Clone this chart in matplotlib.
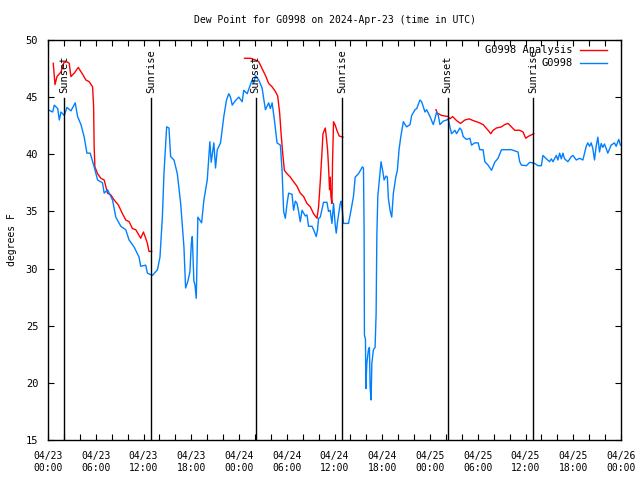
import numpy as np
import matplotlib
matplotlib.use("Agg")
import matplotlib.pyplot as plt
from matplotlib.ticker import MultipleLocator

# hours since 2024-04-23 00:00 UTC, dew point in degrees F
obs_hours = [0.0, 0.59, 0.79, 1.22, 1.42, 1.63, 2.04, 2.38, 2.88, 3.42, 3.72, 4.14, 4.55, 4.89,
             5.30, 5.80, 6.23, 6.85, 7.06, 7.48, 8.11, 8.52, 9.15, 9.77, 10.19, 10.81, 11.44,
             11.65, 12.28, 12.49, 13.12, 13.75, 14.07, 14.37, 14.57, 14.91, 15.20, 15.41,
             15.83, 16.25, 16.67, 17.08, 17.29, 17.58, 17.83, 18.01, 18.13, 18.33, 18.46,
             18.63, 18.76, 18.83, 19.30, 19.59, 20.01, 20.34, 20.51, 20.84, 21.05, 21.27,
             21.68, 22.09, 22.43, 22.72, 22.93, 23.15, 23.56, 23.97, 24.40, 24.60, 25.02,
             25.44, 25.65, 25.85, 26.07, 26.48, 26.90, 27.32, 27.73, 27.94, 28.16, 28.45,
             28.78, 29.20, 29.41, 29.61, 29.82, 30.04, 30.24, 30.66, 30.86, 31.08, 31.29,
             31.49, 31.70, 31.92, 32.33, 32.54, 32.74, 33.17, 33.37, 33.71, 33.87, 34.00,
             34.21, 34.62, 35.05, 35.25, 35.46, 35.68, 35.88, 36.09, 36.22, 36.38, 36.72,
             36.84, 37.00, 37.13, 37.76, 37.97, 38.38, 38.60, 39.01, 39.51, 39.64, 39.72,
             39.76, 39.89, 39.94, 40.06, 40.26, 40.39, 40.48, 40.60, 40.69, 40.89, 41.10,
             41.23, 41.32, 41.44, 41.64, 41.85, 42.07, 42.23, 42.48, 42.64, 42.77, 42.98,
             43.19, 43.40, 43.70, 43.90, 44.11, 44.32, 44.65, 44.86, 45.08, 45.49, 45.70,
             46.12, 46.33, 46.74, 46.95, 47.37, 47.58, 48.00, 48.41, 48.62, 48.83, 49.04,
             49.25, 49.66, 50.09, 50.29, 50.50, 50.71, 51.13, 51.34, 51.75, 51.97, 52.17,
             52.59, 53.01, 53.22, 53.63, 54.05, 54.26, 54.67, 54.89, 55.30, 55.73, 56.14,
             56.55, 56.98, 57.39, 58.23, 58.65, 59.06, 59.27, 59.49, 60.11, 60.53, 61.15,
             61.57, 61.99, 62.19, 62.62, 63.03, 63.24, 63.45, 63.87, 64.07, 64.29, 64.50,
             64.70, 64.91, 65.33, 65.75, 65.96, 66.38, 66.79, 67.21, 67.42, 67.63, 67.83,
             68.05, 68.26, 68.46, 68.67, 68.88, 69.09, 69.30, 69.51, 69.71, 69.92, 70.14,
             70.34, 70.76, 71.18, 71.39, 71.72, 71.93]
obs_dewpt = [43.9, 43.7, 44.3, 44.0, 43.0, 43.7, 43.4, 44.1, 43.8, 44.5, 43.3, 42.6, 41.5, 40.1,
             40.1, 38.9, 37.75, 37.5, 36.6, 36.9, 36.0, 34.5, 33.7, 33.4, 32.5, 31.9, 31.0,
             30.2, 30.3, 29.6, 29.4, 29.9, 31.0, 34.5, 38.3, 42.4, 42.3, 39.8,
             39.5, 38.3, 35.7, 31.9, 28.3, 28.9, 29.7, 32.2, 32.8, 28.9, 28.6,
             27.4, 32.2, 34.5, 34.0, 36.0, 37.75, 41.1, 39.3, 41.0, 38.8, 40.4,
             41.0, 43.3, 44.75, 45.3, 45.0, 44.3, 44.7, 45.0, 44.6, 45.6, 45.3,
             46.1, 46.5, 46.2, 46.9, 46.5, 45.8, 43.9, 44.5, 44.0, 44.5, 43.0,
             41.0, 40.8, 38.6, 35.0, 34.4, 35.7, 36.6, 36.5, 35.1, 35.9, 35.7,
             35.0, 34.1, 35.1, 34.6, 34.7, 33.7, 33.7, 33.4, 32.8, 33.4, 34.4,
             34.5, 35.8, 35.8, 35.0, 35.1, 33.95, 35.7, 33.8, 33.1, 34.1, 35.7,
             35.9, 35.0, 33.95, 33.95, 34.7, 36.3, 38.0, 38.3, 38.9, 38.8, 33.4,
             24.2, 23.8, 19.5, 21.7, 22.9, 23.1, 19.5, 18.5, 21.7, 22.9, 23.1,
             26.1, 32.8, 36.3, 37.75, 39.35, 38.5, 37.75, 38.1, 38.0, 36.15, 35.1,
             34.5, 36.6, 38.0, 38.6, 40.4, 41.5, 42.85, 42.6, 42.4, 42.6, 43.4,
             43.9, 44.0, 44.75, 44.6, 43.7, 43.9, 43.3, 42.6, 43.1, 43.7, 43.4,
             42.6, 42.9, 43.0, 43.1, 42.4, 41.8, 42.1, 41.8, 42.3, 42.1, 41.55,
             41.3, 41.4, 40.8, 41.0, 41.0, 40.4, 40.4, 39.35, 39.05, 38.6, 39.3,
             39.65, 40.4, 40.4, 40.4, 40.3, 40.2, 39.35, 39.05, 39.0, 39.3, 39.2,
             39.0, 39.0, 39.9, 39.6, 39.35, 39.6, 39.35, 39.9, 39.5, 40.1, 39.6,
             40.1, 39.6, 39.35, 39.8, 39.9, 39.5, 39.65, 39.5, 40.1, 40.7, 41.0,
             40.7, 41.0, 40.5, 39.5, 40.7, 41.5, 40.2, 40.95, 40.6, 40.9, 40.5,
             40.1, 40.8, 41.0, 40.7, 41.3, 40.8]

# analysis series, nan marks the gaps between the three nights
ana_hours = [0.66, 0.88, 1.13, 1.63, 1.97, 2.38, 2.67, 2.88, 3.30, 3.80, 4.35, 4.76, 5.18, 5.60,
             5.73, 5.80, 5.89, 6.23, 6.64, 7.06, 7.48, 7.89, 8.31, 8.81, 9.36, 9.77, 10.19,
             10.61, 11.03, 11.65, 11.99, 12.28, 12.49, 12.69, 13.03,
             np.nan,
             24.69, 25.44, 26.07, 26.48, 26.90, 27.32, 27.73, 28.16, 28.57, 28.86, 29.11,
             29.29, 29.49, 29.70, 30.04, 30.45, 30.86, 31.29, 31.70, 32.12, 32.54, 32.96,
             33.37, 33.80, 34.00, 34.21, 34.42, 34.55, 34.84, 34.96, 35.13, 35.25, 35.38,
             35.46, 35.55, 35.68, 35.75, 35.88, 36.09, 36.30, 36.59, 37.05,
             np.nan,
             48.75, 48.91, 49.46, 49.87, 50.29, 50.50, 50.84, 51.34, 51.84, 52.38, 52.92,
             53.42, 54.05, 54.67, 55.30, 55.64, 55.93, 56.35, 56.98, 57.39, 57.81, 58.23,
             58.65, 59.27, 59.69, 60.03, 60.31, 60.74, 61.03]
ana_dewpt = [47.96, 46.1, 46.8, 47.2, 48.0, 48.1, 47.95, 46.8, 47.1, 47.6, 47.0, 46.5, 46.35, 45.9,
             44.2, 40.7, 38.9, 38.3, 37.9, 37.75, 36.6, 36.45, 36.0, 35.6, 34.8, 34.25, 34.1,
             33.5, 33.4, 32.65, 33.2, 32.65, 32.2, 31.5, 31.5,
             np.nan,
             48.4, 48.4, 48.25, 48.1, 47.5, 46.9, 46.2, 45.9, 45.5, 45.1, 43.6,
             41.8, 40.1, 38.6, 38.3, 38.0, 37.6, 37.2, 36.6, 36.3, 35.7, 35.4,
             34.8, 34.4, 35.4, 37.6, 40.1, 41.8, 42.3, 41.6, 40.4, 38.9, 36.9,
             38.0, 36.3, 35.7, 39.2, 42.85, 42.55, 42.1, 41.6, 41.5,
             np.nan,
             43.9, 43.6, 43.4, 43.35, 43.3, 43.1, 43.3, 42.95, 42.7, 43.0, 43.1,
             42.95, 42.8, 42.6, 42.1, 41.8, 42.1, 42.3, 42.4, 42.6, 42.7, 42.4,
             42.1, 42.1, 41.95, 41.4, 41.55, 41.7, 41.8]

sunset_hours = [2.0, 26.1, 50.2]
sunrise_hours = [12.95, 37.0, 61.0]

tick_hours = list(range(0, 73, 6))
tick_labels = ["04/23\n00:00", "04/23\n06:00", "04/23\n12:00", "04/23\n18:00",
               "04/24\n00:00", "04/24\n06:00", "04/24\n12:00", "04/24\n18:00",
               "04/25\n00:00", "04/25\n06:00", "04/25\n12:00", "04/25\n18:00",
               "04/26\n00:00"]

plt.rcParams['font.family'] = ['DejaVu Sans Mono']
plt.rcParams['font.size'] = 7

fig = plt.figure(figsize=(6.4, 4.8), dpi=100)
ax = fig.add_axes([48 / 640, 40 / 480, 573 / 640, 400 / 480])

ax.plot(ana_hours, ana_dewpt, color='#ff0000', lw=1.0, label='G0998 Analysis')
ax.plot(obs_hours, obs_dewpt, color='#0080ff', lw=1.0, label='G0998')

for h in sunset_hours:
    ax.plot([h, h], [15, 44.9], color='black', lw=1.0)
    ax.text(h, 45.4, 'Sunset', rotation=90, ha='center', va='bottom', fontsize=7.5)
for h in sunrise_hours:
    ax.plot([h, h], [15, 44.9], color='black', lw=1.0)
    ax.text(h, 45.4, 'Sunrise', rotation=90, ha='center', va='bottom', fontsize=7.5)

ax.set_xlim(0, 72)
ax.set_ylim(15, 50)
ax.set_xticks(tick_hours)
ax.set_xticklabels(tick_labels)
ax.xaxis.set_minor_locator(MultipleLocator(2))
ax.set_yticks(range(15, 51, 5))
ax.tick_params(which='both', direction='in', top=True, right=True, length=4, width=0.8)
ax.tick_params(axis='x', pad=8)
ax.tick_params(axis='y', pad=7, labelsize=7.5)
for s in ax.spines.values():
    s.set_linewidth(1.0)

ax.set_title('Dew Point for G0998 on 2024-Apr-23 (time in UTC)', fontsize=7, pad=12)
ax.set_ylabel('degrees F', fontsize=7, labelpad=6)

ax.legend(loc='upper right', bbox_to_anchor=(0.975, 0.987), frameon=False,
          markerfirst=False, handlelength=2.6, handletextpad=0.7, fontsize=7.5,
          borderpad=0, borderaxespad=0, labelspacing=0.3)

fig.savefig('out.png', dpi=100)
